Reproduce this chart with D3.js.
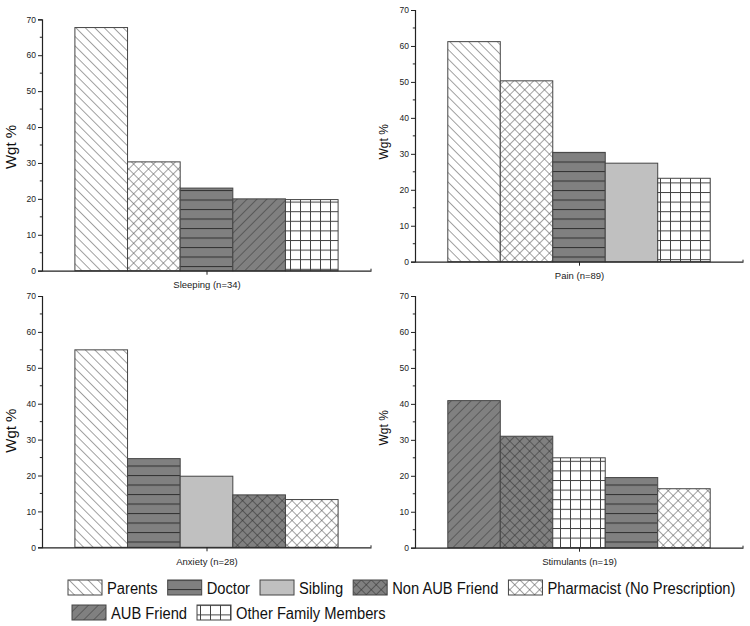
<!DOCTYPE html>
<html>
<head>
<meta charset="utf-8">
<script src="https://cdn.jsdelivr.net/npm/d3@7"></script>
<style>
  html, body { margin: 0; padding: 0; background: #fff; }
  svg { display: block; font-family: "Liberation Sans", Arial, sans-serif; }
</style>
</head>
<body>
<svg id="chart" width="750" height="626"></svg>
<script>
// ---------------- DATA ----------------
const panelTitles = ["Sleeping (n=34)", "Pain (n=89)", "Anxiety (n=28)", "Stimulants (n=19)"];

const sleepingSources = ["Parents", "Pharmacist (No Prescription)", "Doctor", "AUB Friend", "Other Family Members"];
const sleepingValues  = [67.7, 30.3, 23.0, 20.0, 19.8];

const painSources = ["Parents", "Pharmacist (No Prescription)", "Doctor", "Sibling", "Other Family Members"];
const painValues  = [61.2, 50.3, 30.4, 27.4, 23.2];

const anxietySources = ["Parents", "Doctor", "Sibling", "Non AUB Friend", "Pharmacist (No Prescription)"];
const anxietyValues  = [55.0, 24.7, 19.8, 14.6, 13.3];

const stimulantsSources = ["AUB Friend", "Non AUB Friend", "Other Family Members", "Doctor", "Pharmacist (No Prescription)"];
const stimulantsValues  = [40.9, 31.0, 25.0, 19.5, 16.4];

const yTickValues = [0, 10, 20, 30, 40, 50, 60, 70];
const yAxisLabel = "Wgt %";

const legendRow1 = ["Parents", "Doctor", "Sibling", "Non AUB Friend", "Pharmacist (No Prescription)"];
const legendRow2 = ["AUB Friend", "Other Family Members"];

// ---------------- LAYOUT ----------------
const panels = [
  { title: panelTitles[0], sources: sleepingSources,   values: sleepingValues,   left: 42,  right: 371, top: 19.3, bottom: 270.7, labelSize: 15, labelDy: 2 },
  { title: panelTitles[1], sources: painSources,       values: painValues,       left: 415, right: 743, top: 10,   bottom: 261.7, labelSize: 12, labelDy: 6 },
  { title: panelTitles[2], sources: anxietySources,    values: anxietyValues,    left: 42,  right: 371, top: 296,  bottom: 547.3, labelSize: 15, labelDy: 9 },
  { title: panelTitles[3], sources: stimulantsSources, values: stimulantsValues, left: 415, right: 743, top: 296,  bottom: 547.7, labelSize: 12, labelDy: 6 }
];

const GRAY = "#808080";
const LIGHT = "#c0c0c0";
const styleOf = {
  "Parents":                      { fill: "url(#pBack)" },
  "Doctor":                       { fill: "url(#pHoriz)" },
  "Sibling":                      { fill: LIGHT },
  "Non AUB Friend":               { fill: "url(#pCrossGray)" },
  "Pharmacist (No Prescription)": { fill: "url(#pCrossWhite)" },
  "AUB Friend":                   { fill: "url(#pFwd)" },
  "Other Family Members":         { fill: "url(#pGrid)" }
};

const svg = d3.select("#chart");
const defs = svg.append("defs");

function diagPattern(id, bg, lineColor, angle, size) {
  const p = defs.append("pattern").attr("id", id)
    .attr("patternUnits", "userSpaceOnUse")
    .attr("width", size).attr("height", size)
    .attr("patternTransform", `rotate(${angle})`);
  p.append("rect").attr("width", size).attr("height", size).attr("fill", bg);
  p.append("line").attr("x1", 0).attr("y1", 0).attr("x2", 0).attr("y2", size)
    .attr("stroke", lineColor).attr("stroke-width", 1.1);
}
function crossPattern(id, bg, lineColor, size) {
  const p = defs.append("pattern").attr("id", id)
    .attr("patternUnits", "userSpaceOnUse")
    .attr("width", size).attr("height", size)
    .attr("patternTransform", "rotate(45)");
  p.append("rect").attr("width", size).attr("height", size).attr("fill", bg);
  p.append("line").attr("x1", 0).attr("y1", 0).attr("x2", 0).attr("y2", size)
    .attr("stroke", lineColor).attr("stroke-width", 1.1);
  p.append("line").attr("x1", 0).attr("y1", 0).attr("x2", size).attr("y2", 0)
    .attr("stroke", lineColor).attr("stroke-width", 1.1);
}
diagPattern("pBack", "#fff", "#555", -45, 6.7);
diagPattern("pFwd", GRAY, "#3a3a3a", 45, 7);
crossPattern("pCrossWhite", "#fff", "#555", 7);
crossPattern("pCrossGray", GRAY, "#333", 7);
(function () {
  const p = defs.append("pattern").attr("id", "pHoriz")
    .attr("patternUnits", "userSpaceOnUse").attr("width", 10).attr("height", 9.5);
  p.append("rect").attr("width", 10).attr("height", 9.5).attr("fill", GRAY);
  p.append("line").attr("x1", 0).attr("y1", 0.5).attr("x2", 10).attr("y2", 0.5)
    .attr("stroke", "#333").attr("stroke-width", 1.1);
})();
(function () {
  const p = defs.append("pattern").attr("id", "pGrid")
    .attr("patternUnits", "userSpaceOnUse").attr("width", 10).attr("height", 9.6);
  p.append("rect").attr("width", 10).attr("height", 9.6).attr("fill", "#fff");
  p.append("line").attr("x1", 0.5).attr("y1", 0).attr("x2", 0.5).attr("y2", 9.6)
    .attr("stroke", "#444").attr("stroke-width", 1);
  p.append("line").attr("x1", 0).attr("y1", 0.5).attr("x2", 10).attr("y2", 0.5)
    .attr("stroke", "#444").attr("stroke-width", 1);
})();

// ---------------- PANELS ----------------
panels.forEach(pn => {
  const g = svg.append("g");
  const x = d3.scaleBand().domain(d3.range(pn.values.length))
    .range([pn.left, pn.right]).paddingInner(0).paddingOuter(0.625);
  const y = d3.scaleLinear().domain([0, 70]).range([pn.bottom, pn.top]);

  // bars
  g.selectAll("rect.bar").data(pn.values).enter().append("rect")
    .attr("class", "bar")
    .attr("x", (d, i) => x(i))
    .attr("width", x.bandwidth())
    .attr("y", d => y(d))
    .attr("height", d => y(0) - y(d))
    .attr("fill", (d, i) => styleOf[pn.sources[i]].fill)
    .attr("stroke", "#444")
    .attr("stroke-width", 1);

  // y axis
  const yAxis = d3.axisLeft(y).tickValues(yTickValues).tickSize(4).tickPadding(2).tickFormat(d3.format("d"));
  const ya = g.append("g").attr("transform", `translate(${pn.left},0)`).call(yAxis);
  ya.select(".domain").attr("stroke", "#222").attr("stroke-width", 1.2);
  ya.selectAll(".tick line").attr("stroke", "#222");
  ya.selectAll(".tick text").attr("font-size", 8.5).attr("fill", "#222")
    .attr("font-family", "Liberation Sans, Arial, sans-serif");
  // minor ticks
  const minor = d3.range(5, 70, 10);
  g.selectAll("line.minor").data(minor).enter().append("line")
    .attr("x1", pn.left - 2.2).attr("x2", pn.left)
    .attr("y1", d => y(d)).attr("y2", d => y(d))
    .attr("stroke", "#222");

  // x axis
  const xc = d3.scalePoint().domain([pn.title]).range([pn.left, pn.right]).padding(0.5);
  const xAxis = d3.axisBottom(xc).tickSize(4).tickPadding(7).tickSizeOuter(0);
  const xa = g.append("g").attr("transform", `translate(0,${y(0)})`).call(xAxis);
  xa.select(".domain").attr("stroke", "#222").attr("stroke-width", 1.2);
  xa.selectAll(".tick line").attr("stroke", "#222");
  xa.selectAll(".tick text").attr("font-size", 9.5).attr("fill", "#222")
    .attr("font-family", "Liberation Sans, Arial, sans-serif");
  // small end tick at right
  g.append("line").attr("x1", pn.right).attr("x2", pn.right)
    .attr("y1", y(0)).attr("y2", y(0) - 2).attr("stroke", "#222");

  // y label
  g.append("text")
    .attr("transform", `translate(${pn.left - 30},${(pn.top + pn.bottom) / 2 + pn.labelDy}) rotate(-90)`)
    .attr("text-anchor", "middle")
    .attr("dominant-baseline", "middle")
    .attr("font-size", pn.labelSize)
    .attr("fill", "#111")
    .text(yAxisLabel);
});

// ---------------- LEGEND ----------------
const legendRows = [
  { items: legendRow1, x0: 68, y: 580 },
  { items: legendRow2, x0: 72, y: 605 }
];
const SW = 34, SH = 15, GAP_T = 5, GAP_I = 10, FS = 16, SX = 0.92;
legendRows.forEach(row => {
  let cx = row.x0;
  row.items.forEach(name => {
    const gi = svg.append("g");
    gi.append("rect").attr("x", cx).attr("y", row.y).attr("width", SW).attr("height", SH)
      .attr("fill", styleOf[name].fill).attr("stroke", "#444").attr("stroke-width", 1);
    const tx = cx + SW + GAP_T;
    const t = gi.append("text")
      .attr("transform", `translate(${tx},${row.y + SH - 1}) scale(${SX},1)`)
      .attr("font-size", FS).attr("fill", "#111")
      .text(name);
    const w = t.node().getComputedTextLength() * SX;
    cx = tx + w + GAP_I;
  });
});
</script>
</body>
</html>
